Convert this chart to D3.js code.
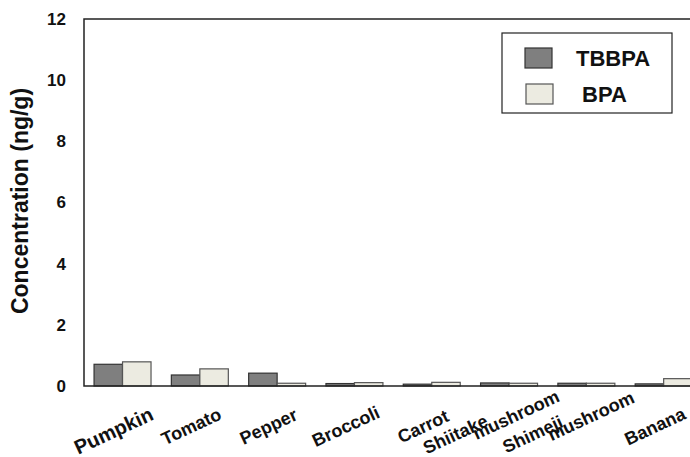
<!DOCTYPE html>
<html>
<head>
<meta charset="utf-8">
<script src="https://cdn.jsdelivr.net/npm/d3@7"></script>
<style>
  html, body { margin: 0; padding: 0; background: #fff; }
  svg { display: block; font-family: "Liberation Sans", Arial, sans-serif; font-weight: bold; }
</style>
</head>
<body>
<svg id="chart" width="690" height="457"></svg>
<script>
const categories = ["Pumpkin", "Tomato", "Pepper", "Broccoli", "Carrot", "Shiitake mushroom", "Shimeji mushroom", "Banana"];
const seriesNames = ["TBBPA", "BPA"];
const tbbpa = [0.71, 0.36, 0.42, 0.08, 0.06, 0.10, 0.09, 0.07];
const bpa   = [0.79, 0.56, 0.09, 0.11, 0.12, 0.09, 0.09, 0.24];
const yTicks = [0, 2, 4, 6, 8, 10, 12];
const yTitle = "Concentration (ng/g)";

const colors = { TBBPA: "#7f7f7f", BPA: "#ecebe1" };
const strokes = { TBBPA: "#333333", BPA: "#555555" };

const svg = d3.select("#chart");
const mLeft = 84, mTop = 19, mBottom = 386, mRight = 690;

const x = d3.scaleBand().domain(categories).range([mLeft, 702.2]).paddingInner(0.263).paddingOuter(0.13);
const x1 = d3.scaleBand().domain(seriesNames).range([0, x.bandwidth()]);
const y = d3.scaleLinear().domain([0, 12]).range([mBottom, mTop]);

const data = categories.map((c, i) => ({ cat: c, values: [
  { key: "TBBPA", v: tbbpa[i] }, { key: "BPA", v: bpa[i] }
]}));

// bars
const g = svg.append("g");
g.selectAll("g.grp").data(data).join("g")
  .attr("transform", d => `translate(${x(d.cat)},0)`)
  .selectAll("rect").data(d => d.values).join("rect")
  .attr("x", d => x1(d.key))
  .attr("y", d => y(d.v))
  .attr("width", x1.bandwidth())
  .attr("height", d => y(0) - y(d.v))
  .attr("fill", d => colors[d.key])
  .attr("stroke", d => strokes[d.key])
  .attr("stroke-width", 1.2);

// frame
svg.append("path")
  .attr("d", `M${mRight},${mTop}H${mLeft}V${mBottom}H${mRight}`)
  .attr("fill", "none").attr("stroke", "#222").attr("stroke-width", 1.5);

// y ticks
const yAxis = d3.axisLeft(y).tickValues(yTicks).tickSize(0).tickPadding(18).tickFormat(d3.format("d"));
const ya = svg.append("g").attr("transform", `translate(${mLeft},0)`).call(yAxis);
ya.select(".domain").remove();
ya.selectAll("text").attr("font-size", 17).attr("font-weight", "bold").attr("fill", "#111")
  .attr("font-family", "'Liberation Sans', Arial, sans-serif");

// y title
svg.append("text")
  .attr("transform", `translate(28,201) rotate(-90)`)
  .attr("text-anchor", "middle")
  .attr("font-size", 23).attr("fill", "#111")
  .text(yTitle);

// x labels
const xl = svg.append("g");
categories.forEach((c, i) => {
  const cx = x(c) + x.bandwidth() / 2;
  const big = i === 0;
  const parts = c.split(" ");
  const multi = parts.length > 1;
  const tx = multi ? cx - 17 : cx - 6;
  const ty = big ? 437 : (multi ? 424 : 432);
  const t = xl.append("text")
    .attr("transform", `translate(${tx},${ty}) rotate(-25)`)
    .attr("text-anchor", "middle")
    .attr("font-size", big ? 20 : 18)
    .attr("fill", "#111");
  parts.forEach((p, j) => {
    const ts = t.append("tspan").text(p);
    if (j > 0) ts.attr("dx", -18).attr("dy", 8);
  });
});

// legend
const lg = svg.append("g");
lg.append("rect").attr("x", 502).attr("y", 33).attr("width", 170).attr("height", 80)
  .attr("fill", "#fff").attr("stroke", "#222").attr("stroke-width", 1.2);
const legY = [48, 84];
const legTx = [576, 582];
seriesNames.forEach((s, i) => {
  lg.append("rect").attr("x", 525 + i).attr("y", legY[i]).attr("width", 27).attr("height", 20)
    .attr("fill", colors[s]).attr("stroke", strokes[s]).attr("stroke-width", 1.2);
  lg.append("text").attr("x", legTx[i]).attr("y", legY[i] + 18)
    .attr("font-size", 22).attr("fill", "#111").text(s);
});
</script>
</body>
</html>
